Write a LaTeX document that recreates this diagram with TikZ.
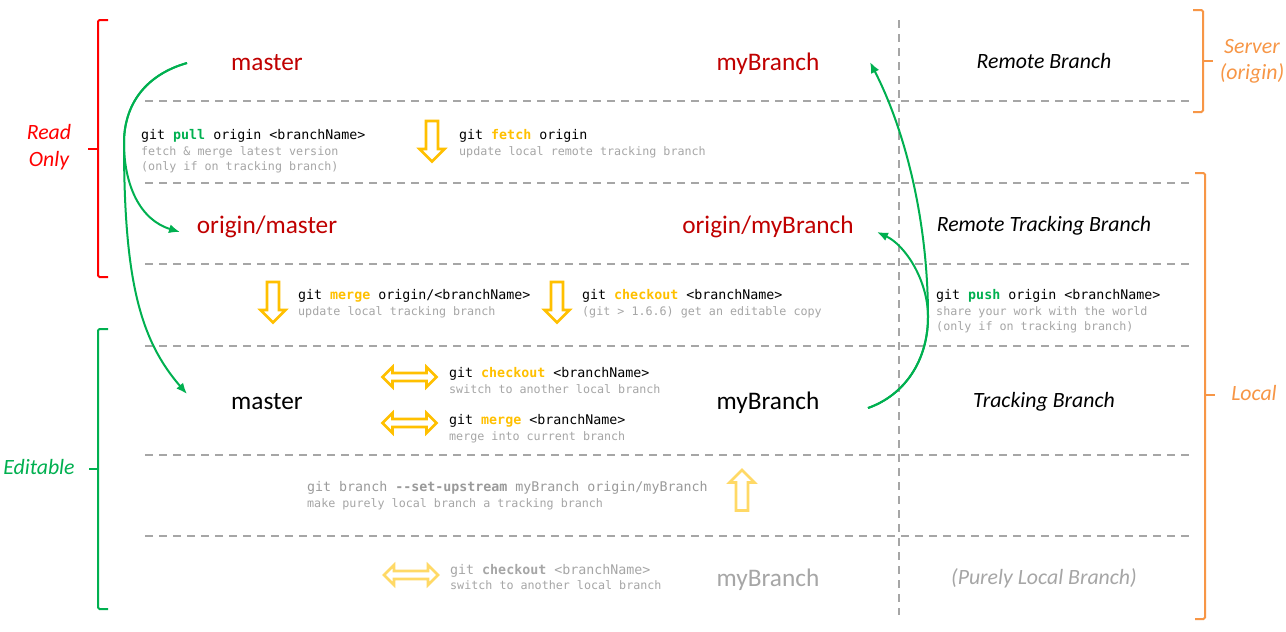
\documentclass[tikz,border=0pt]{standalone}
\usepackage{fontspec}
\setmainfont{Carlito}
\setmonofont{DejaVu Sans Mono}
\usetikzlibrary{arrows.meta}
\definecolor{dred}{HTML}{C00000}
\definecolor{rred}{HTML}{FF0000}
\definecolor{ggreen}{HTML}{00B050}
\definecolor{gold}{HTML}{FFC000}
\definecolor{lgold}{HTML}{FFD966}
\definecolor{lorange}{HTML}{F79646}
\definecolor{dgray}{HTML}{A6A6A6}
\definecolor{tgray}{HTML}{A6A6A6}
\definecolor{fgray}{HTML}{9A9A9A}
\newcommand\kwg[1]{\textcolor{ggreen}{\bfseries #1}}
\newcommand\kwo[1]{\textcolor{gold}{\bfseries #1}}
\tikzset{
  branch/.style={font=\fontsize{25.3}{30}\selectfont, inner sep=0pt, anchor=base},
  role/.style={font=\fontsize{21.8}{26}\selectfont\itshape, inner sep=0pt, anchor=base},
  side/.style={font=\fontsize{21.8}{27}\selectfont\itshape, inner sep=0pt, align=center},
  cmd/.style={font=\ttfamily\fontsize{13.3}{16}\selectfont, inner sep=0pt, anchor=base west},
  desc/.style={font=\ttfamily\fontsize{11.7}{14}\selectfont, text=tgray, inner sep=0pt, anchor=base west},
  sep/.style={draw=dgray, line width=2pt, dash pattern=on 8pt off 6pt},
  bracket/.style={line width=2pt, rounded corners=1.5pt},
  flow/.style={draw=ggreen, line width=2pt, -{Latex[length=11pt,width=9pt]}},
  hollow/.style={line width=2.6pt, miter limit=10},
  downarr/.pic={\path[pic actions] (-6,0) -- (6,0) -- (6,28) -- (12.5,28) -- (0,40.5) -- (-12.5,28) -- (-6,28) -- cycle;},
  uparr/.pic={\path[pic actions] (0,0) -- (12.5,12.5) -- (6,12.5) -- (6,40.5) -- (-6,40.5) -- (-6,12.5) -- (-12.5,12.5) -- cycle;},
  dblarr/.pic={\path[pic actions] (-27,0) -- (-17,-10) -- (-17,-4) -- (17,-4) -- (17,-10) -- (27,0) -- (17,10) -- (17,4) -- (-17,4) -- (-17,10) -- cycle;},
}
\begin{document}
\begin{tikzpicture}[x=1pt,y=-1pt]
\fill[white] (0,0) rectangle (1286,632);
\useasboundingbox (0,0) rectangle (1286,632);

% separators
\foreach \yy in {101,183,264,346,455,536} \draw[sep] (145,\yy) -- (1190,\yy);
\draw[sep] (899,20) -- (899,615);

% brackets
\draw[bracket, draw=rred] (108,20) -- (98,20) -- (98,277) -- (108,277);
\draw[bracket, draw=rred] (98,149) -- (88,149);
\draw[bracket, draw=ggreen] (108,329) -- (98,329) -- (98,609) -- (108,609);
\draw[bracket, draw=ggreen] (98,469) -- (89,469);
\draw[bracket, draw=lorange] (1193,10) -- (1203,10) -- (1203,112) -- (1193,112);
\draw[bracket, draw=lorange] (1203,61) -- (1213,61);
\draw[bracket, draw=lorange] (1195,173) -- (1205,173) -- (1205,619) -- (1195,619);
\draw[bracket, draw=lorange] (1205,395) -- (1215,395);

% side labels
\node[side, text=rred] (readonly) at (49,147) {Read\\Only};
\node[side, text=ggreen] (editable) at (39,467) {Editable};
\node[side, text=lorange, font=\fontsize{21.8}{26}\selectfont\itshape] (server) at (1252,61) {Server\\(origin)};
\node[side, text=lorange] (local) at (1254,393) {Local};

% branches
\node[branch, text=dred] (rmaster) at (267,70) {master};
\node[branch, text=dred] (rmy) at (768,70) {myBranch};
\node[role] (remote) at (1044,68) {Remote Branch};
\node[branch, text=dred] (omaster) at (267,233) {origin/master};
\node[branch, text=dred] (omy) at (768,233) {origin/myBranch};
\node[role] (rtrack) at (1044,231) {Remote Tracking Branch};
\node[branch] (lmaster) at (267,409) {master};
\node[branch] (lmy) at (768,409) {myBranch};
\node[role] (track) at (1044,407) {Tracking Branch};
\node[branch, text=tgray] (pmy) at (768,586) {myBranch};
\node[role, text=tgray] (plocal) at (1044,584) {(Purely Local Branch)};

% commands
\node[cmd] (pull) at (141,139) {git \kwg{pull} origin <branchName>};
\node[desc] (pulld) at (141,155) {fetch \& merge latest version};
\node[desc] (pulld2) at (141,170) {(only if on tracking branch)};

\pic[draw=gold, hollow] at (432,121) {downarr};
\node[cmd] (fetch) at (459,139) {git \kwo{fetch} origin};
\node[desc] (fetchd) at (459,155) {update local remote tracking branch};

\pic[draw=gold, hollow] at (273,282) {downarr};
\node[cmd] (merge) at (298,299) {git \kwo{merge} origin/<branchName>};
\node[desc] (merged) at (298,315) {update local tracking branch};

\pic[draw=gold, hollow] at (557,282) {downarr};
\node[cmd] (checkout) at (582,299) {git \kwo{checkout} <branchName>};
\node[desc] (checkoutd) at (582,315) {(git > 1.6.6) get an editable copy};

\node[cmd] (push) at (936,299) {git \kwg{push} origin <branchName>};
\node[desc] (pushd) at (936,315) {share your work with the world};
\node[desc] (pushd2) at (936,330) {(only if on tracking branch)};

\pic[draw=gold, hollow] at (409.5,377) {dblarr};
\node[cmd] (lcheckout) at (449,377) {git \kwo{checkout} <branchName>};
\node[desc] (lcheckoutd) at (449,393) {switch to another local branch};

\pic[draw=gold, hollow] at (409.5,423) {dblarr};
\node[cmd] (lmerge) at (449,424) {git \kwo{merge} <branchName>};
\node[desc] (lmerged) at (449,440) {merge into current branch};

\node[cmd, text=fgray] (upstream) at (307,491) {git branch \textbf{-\kern0pt-set-upstream} myBranch origin/myBranch};
\node[desc] (upstreamd) at (307,507) {make purely local branch a tracking branch};
\pic[draw=lgold, hollow] at (742,470) {uparr};

\pic[draw=lgold, hollow] at (411,575) {dblarr};
\node[cmd, text=tgray] (pcheckout) at (450,574) {git \textbf{checkout} <branchName>};
\node[desc] (pcheckoutd) at (450,589) {switch to another local branch};

% green flows
\coordinate (p0) at (187,63);
\coordinate (pm) at (124,143);
\coordinate (p1) at (180,232);
\coordinate (p2) at (187,394);
\draw[flow] (p0) .. controls (145,75) and (124,105) .. (pm)
  .. controls (124,185) and (140,220) .. (p1);
\draw[flow] (p0) .. controls (145,75) and (124,105) .. (pm)
  .. controls (124,280) and (140,340) .. (p2);
\coordinate (q0) at (868,408);
\coordinate (qm) at (928,317);
\coordinate (q1) at (870,62);
\coordinate (q2) at (877,232);
\draw[flow] (q0) .. controls (905,395) and (928,360) .. (qm)
  .. controls (928,220) and (905,130) .. (q1);
\draw[flow] (q0) .. controls (905,395) and (928,360) .. (qm)
  .. controls (928,280) and (905,245) .. (q2);
\end{tikzpicture}
\end{document}
